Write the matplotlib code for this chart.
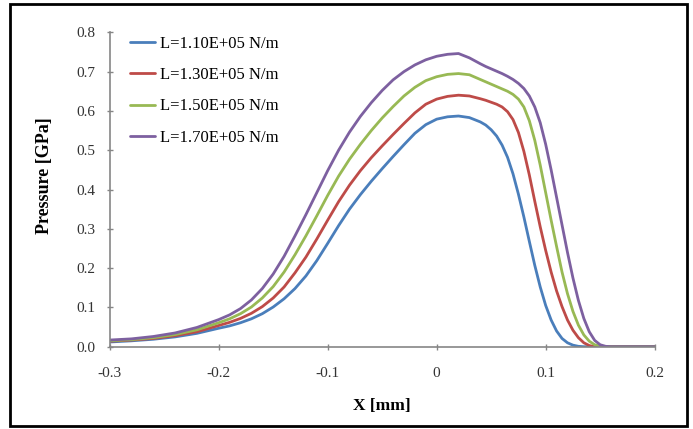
import matplotlib
matplotlib.use("Agg")
import matplotlib.pyplot as plt
from matplotlib.patches import Rectangle

x_mm = [-0.30, -0.28, -0.26, -0.24, -0.22, -0.20, -0.19, -0.18, -0.17, -0.16,
        -0.15, -0.14, -0.13, -0.12, -0.11, -0.10, -0.09, -0.08, -0.07, -0.06,
        -0.05, -0.04, -0.03, -0.02, -0.01, 0.00, 0.01, 0.02, 0.03, 0.04,
        0.045, 0.05, 0.055, 0.06, 0.065, 0.07, 0.075, 0.08, 0.085, 0.09,
        0.095, 0.10, 0.105, 0.11, 0.115, 0.12, 0.125, 0.13, 0.135, 0.14,
        0.145, 0.15, 0.155, 0.16, 0.18, 0.20]

p_110 = [0.012, 0.015, 0.019, 0.025, 0.034, 0.047, 0.053, 0.061, 0.071, 0.084,
         0.101, 0.122, 0.148, 0.180, 0.219, 0.263, 0.308, 0.350, 0.387, 0.421,
         0.453, 0.484, 0.514, 0.543, 0.565, 0.579, 0.585, 0.587, 0.583, 0.572,
         0.564, 0.552, 0.536, 0.513, 0.482, 0.440, 0.388, 0.330, 0.268, 0.207,
         0.152, 0.105, 0.068, 0.040, 0.021, 0.010, 0.004, 0.001, 0.0, 0.0,
         0.0, 0.0, 0.0, 0.0, 0.0, 0.0]

p_130 = [0.014, 0.017, 0.021, 0.028, 0.038, 0.054, 0.062, 0.072, 0.085, 0.102,
         0.124, 0.152, 0.188, 0.228, 0.274, 0.322, 0.369, 0.411, 0.448, 0.481,
         0.511, 0.540, 0.568, 0.595, 0.617, 0.630, 0.637, 0.640, 0.638, 0.631,
         0.627, 0.622, 0.617, 0.610, 0.598, 0.578, 0.545, 0.497, 0.437, 0.370,
         0.305, 0.245, 0.190, 0.142, 0.102, 0.068, 0.042, 0.023, 0.010, 0.003,
         0.0, 0.0, 0.0, 0.0, 0.0, 0.0]

p_150 = [0.015, 0.018, 0.023, 0.031, 0.043, 0.061, 0.071, 0.084, 0.101, 0.124,
         0.153, 0.190, 0.234, 0.282, 0.333, 0.385, 0.434, 0.477, 0.515, 0.550,
         0.582, 0.611, 0.638, 0.660, 0.677, 0.687, 0.693, 0.695, 0.692, 0.680,
         0.674, 0.668, 0.662, 0.656, 0.650, 0.642, 0.630, 0.610, 0.575, 0.525,
         0.462, 0.392, 0.322, 0.255, 0.190, 0.135, 0.090, 0.055, 0.030, 0.014,
         0.005, 0.001, 0.0, 0.0, 0.0, 0.0]

p_170 = [0.017, 0.020, 0.026, 0.035, 0.049, 0.069, 0.081, 0.097, 0.119, 0.148,
         0.185, 0.230, 0.282, 0.336, 0.392, 0.448, 0.500, 0.546, 0.586, 0.621,
         0.652, 0.679, 0.700, 0.717, 0.730, 0.739, 0.744, 0.746, 0.735, 0.720,
         0.713, 0.707, 0.701, 0.695, 0.688, 0.680, 0.670, 0.657, 0.638, 0.610,
         0.570, 0.515, 0.450, 0.380, 0.310, 0.240, 0.175, 0.118, 0.072, 0.038,
         0.016, 0.005, 0.001, 0.0, 0.0, 0.0]

labels = ["L=1.10E+05 N/m", "L=1.30E+05 N/m", "L=1.50E+05 N/m", "L=1.70E+05 N/m"]
colors = ["#4A7EBB", "#BE4B48", "#98B954", "#7D60A0"]
x_ticks = [-0.3, -0.2, -0.1, 0.0, 0.1, 0.2]
x_tick_labels = ["-0.3", "-0.2", "-0.1", "0", "0.1", "0.2"]
y_ticks = [0.0, 0.1, 0.2, 0.3, 0.4, 0.5, 0.6, 0.7, 0.8]
y_tick_labels = ["0.0", "0.1", "0.2", "0.3", "0.4", "0.5", "0.6", "0.7", "0.8"]

plt.rcParams['font.family'] = ['Liberation Serif', 'DejaVu Serif']

fig = plt.figure(figsize=(6.93, 4.29), dpi=100)
ax = fig.add_axes([0.1583, 0.1918, 0.7864, 0.7329])

for series, lab, col in zip([p_110, p_130, p_150, p_170], labels, colors):
    ax.plot(x_mm, series, color=col, lw=2.0, label=lab,
            solid_joinstyle='round', solid_capstyle='round')

ax.set_xlim(-0.3, 0.2)
ax.set_ylim(0.0, 0.8)
ax.set_xticks(x_ticks)
ax.set_xticklabels(x_tick_labels)
ax.set_yticks(y_ticks)
ax.set_yticklabels(y_tick_labels)
for s in ['top', 'right']:
    ax.spines[s].set_visible(False)
for s in ['left', 'bottom']:
    ax.spines[s].set_color('#868686')
    ax.spines[s].set_linewidth(1.2)
ax.tick_params(axis='both', direction='inout', length=5, width=1.0,
               color='#868686', labelsize=11, labelcolor='#333333')
ax.tick_params(axis='x', pad=12)
ax.tick_params(axis='y', pad=8)

ax.set_xlabel("X [mm]", fontsize=12.5, fontweight='bold', labelpad=13)
ax.set_ylabel("Pressure [GPa]", fontsize=13, fontweight='bold')
ax.yaxis.set_label_coords(-0.104, 0.543)

leg = ax.legend(loc='upper left', bbox_to_anchor=(0.038, 0.989), frameon=False,
                fontsize=12, handlelength=1.5, handletextpad=0.3,
                labelspacing=0.92, borderpad=0.0, borderaxespad=0.0)

fig.patches.append(Rectangle((10 / 693, 3 / 429), 677 / 693, 422 / 429,
                             transform=fig.transFigure, fill=False,
                             edgecolor='black', linewidth=2))

fig.savefig("out.png", dpi=100)
